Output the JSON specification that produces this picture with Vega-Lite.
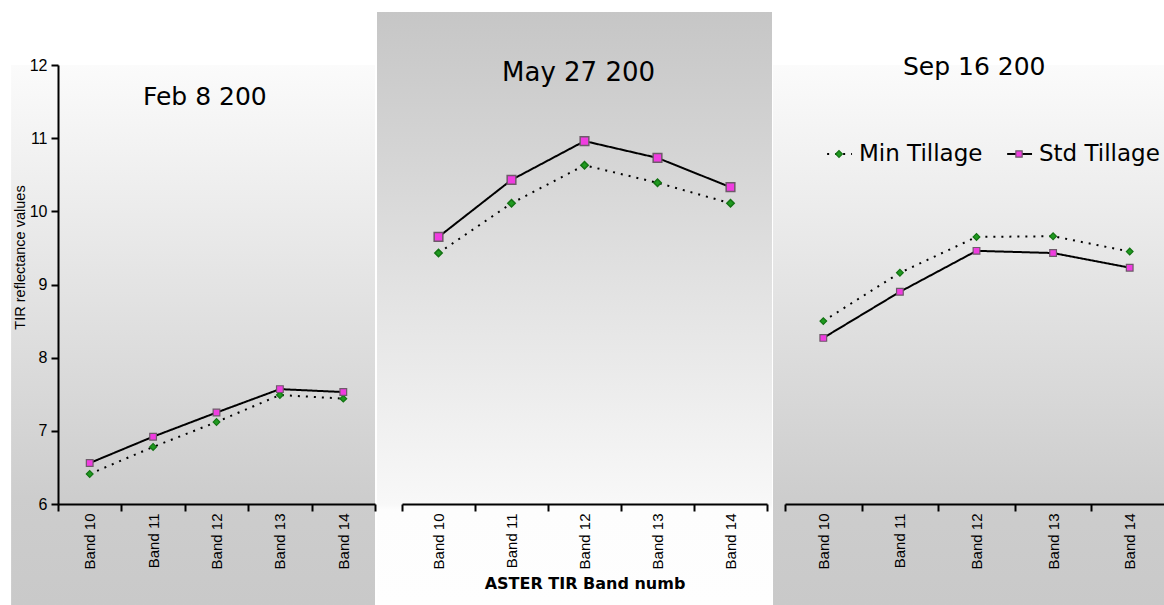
{
  "$schema": "https://vega.github.io/schema/vega-lite/v6.json",
  "padding": {"left": 11, "top": 12, "right": 0, "bottom": 0},
  "background": "white",
  "spacing": 0,
  "config": {
    "view": {"stroke": null},
    "axis": {"zindex": 1, "domainColor": "black", "domainWidth": 2, "tickColor": "black", "tickWidth": 2, "tickSize": 7, "grid": false, "labelColor": "black", "titleColor": "black", "labelFont": "Liberation Sans"},
    "text": {"font": "DejaVu Sans", "color": "black"}
  },
  "datasets": {
    "tir": [
      {"date": "Feb", "band": "Band 10", "series": "Min Tillage", "value": 6.41},
      {"date": "Feb", "band": "Band 11", "series": "Min Tillage", "value": 6.78},
      {"date": "Feb", "band": "Band 12", "series": "Min Tillage", "value": 7.12},
      {"date": "Feb", "band": "Band 13", "series": "Min Tillage", "value": 7.49},
      {"date": "Feb", "band": "Band 14", "series": "Min Tillage", "value": 7.44},
      {"date": "Feb", "band": "Band 10", "series": "Std Tillage", "value": 6.56},
      {"date": "Feb", "band": "Band 11", "series": "Std Tillage", "value": 6.92},
      {"date": "Feb", "band": "Band 12", "series": "Std Tillage", "value": 7.25},
      {"date": "Feb", "band": "Band 13", "series": "Std Tillage", "value": 7.57},
      {"date": "Feb", "band": "Band 14", "series": "Std Tillage", "value": 7.53},
      {"date": "May", "band": "Band 10", "series": "Min Tillage", "value": 9.43},
      {"date": "May", "band": "Band 11", "series": "Min Tillage", "value": 10.11},
      {"date": "May", "band": "Band 12", "series": "Min Tillage", "value": 10.63},
      {"date": "May", "band": "Band 13", "series": "Min Tillage", "value": 10.39},
      {"date": "May", "band": "Band 14", "series": "Min Tillage", "value": 10.11},
      {"date": "May", "band": "Band 10", "series": "Std Tillage", "value": 9.65},
      {"date": "May", "band": "Band 11", "series": "Std Tillage", "value": 10.43},
      {"date": "May", "band": "Band 12", "series": "Std Tillage", "value": 10.96},
      {"date": "May", "band": "Band 13", "series": "Std Tillage", "value": 10.73},
      {"date": "May", "band": "Band 14", "series": "Std Tillage", "value": 10.33},
      {"date": "Sep", "band": "Band 10", "series": "Min Tillage", "value": 8.50},
      {"date": "Sep", "band": "Band 11", "series": "Min Tillage", "value": 9.16},
      {"date": "Sep", "band": "Band 12", "series": "Min Tillage", "value": 9.65},
      {"date": "Sep", "band": "Band 13", "series": "Min Tillage", "value": 9.66},
      {"date": "Sep", "band": "Band 14", "series": "Min Tillage", "value": 9.45},
      {"date": "Sep", "band": "Band 10", "series": "Std Tillage", "value": 8.27},
      {"date": "Sep", "band": "Band 11", "series": "Std Tillage", "value": 8.90},
      {"date": "Sep", "band": "Band 12", "series": "Std Tillage", "value": 9.46},
      {"date": "Sep", "band": "Band 13", "series": "Std Tillage", "value": 9.43},
      {"date": "Sep", "band": "Band 14", "series": "Std Tillage", "value": 9.23}
    ]
  },
  "hconcat": [
    {
      "width": 317,
      "height": 439,
      "resolve": {"scale": {"x": "independent"}},
      "layer": [
        {
          "data": {"values": [{}]},
          "layer": [
            {
              "mark": {"type": "rect", "color": {"gradient": "linear", "x1": 0, "y1": 0, "x2": 0, "y2": 1, "stops": [{"offset": 0, "color": "#fbfbfb"}, {"offset": 0.8, "color": "#cdcdcd"}, {"offset": 1, "color": "#c9c9c9"}]}},
              "encoding": {
                "x": {"datum": -0.148, "type": "quantitative", "scale": {"domain": [0, 1], "nice": false, "zero": false}, "axis": null},
                "x2": {"datum": 1},
                "y": {"datum": 12, "type": "quantitative", "scale": {"domain": [6, 12], "nice": false, "zero": false}, "axis": {"zindex": 2, "values": [6, 7, 8, 9, 10, 11, 12], "title": "TIR reflectance values", "titleFont": "Liberation Sans", "titleFontSize": 14.5, "titleFontWeight": "normal", "titlePadding": 2, "titleY": 192, "labelFontSize": 16, "labelPadding": 4}},
                "y2": {"datum": 4.62}
              }
            },
            {
              "mark": {"type": "text", "align": "left", "baseline": "middle", "fontSize": 25},
              "encoding": {
                "x": {"datum": 0.268, "type": "quantitative", "scale": {"domain": [0, 1], "nice": false, "zero": false}, "axis": null},
                "y": {"datum": 11.56, "type": "quantitative", "scale": {"domain": [6, 12], "nice": false, "zero": false}, "axis": {"zindex": 2, "values": [6, 7, 8, 9, 10, 11, 12], "title": "TIR reflectance values", "titleFont": "Liberation Sans", "titleFontSize": 14.5, "titleFontWeight": "normal", "titlePadding": 2, "titleY": 192, "labelFontSize": 16, "labelPadding": 4}},
                "text": {"value": "Feb 8 200"}
              }
            }
          ]
        },
        {
          "data": {"name": "tir"},
          "transform": [{"filter": "datum.date === 'Feb'"}],
          "encoding": {
            "x": {"field": "band", "type": "nominal", "scale": {"paddingInner": 0, "paddingOuter": 0}, "axis": {"zindex": 2, "tickBand": "extent", "labelAngle": 270, "labelFontSize": 15, "labelPadding": 2, "title": null}},
            "y": {"field": "value", "type": "quantitative", "scale": {"domain": [6, 12], "nice": false, "zero": false}, "axis": {"zindex": 2, "values": [6, 7, 8, 9, 10, 11, 12], "title": "TIR reflectance values", "titleFont": "Liberation Sans", "titleFontSize": 14.5, "titleFontWeight": "normal", "titlePadding": 2, "titleY": 192, "labelFontSize": 16, "labelPadding": 4}}
          },
          "layer": [
            {
              "mark": {"type": "line", "color": "black", "strokeWidth": 2},
              "encoding": {
                "detail": {"field": "series"},
                "strokeDash": {"field": "series", "type": "nominal", "scale": {"domain": ["Min Tillage", "Std Tillage"], "range": [[2, 6], [1, 0]]}, "legend": null}
              }
            },
            {
              "mark": {"type": "point", "filled": true, "opacity": 1, "strokeWidth": 1.2},
              "encoding": {
                "shape": {"field": "series", "type": "nominal", "scale": {"domain": ["Min Tillage", "Std Tillage"], "range": ["diamond", "square"]}, "legend": null},
                "fill": {"field": "series", "type": "nominal", "scale": {"domain": ["Min Tillage", "Std Tillage"], "range": ["#1f9a1f", "#f03ce0"]}, "legend": null},
                "stroke": {"field": "series", "type": "nominal", "scale": {"domain": ["Min Tillage", "Std Tillage"], "range": ["#137313", "#6e5a6a"]}, "legend": null},
                "size": {"value": 45}
              }
            }
          ]
        }
      ]
    },
    {
      "width": 365,
      "height": 439,
      "resolve": {"scale": {"x": "independent"}},
      "layer": [
        {
          "data": {"values": [{}]},
          "layer": [
            {
              "mark": {"type": "rect", "color": {"gradient": "linear", "x1": 0, "y1": 0, "x2": 0, "y2": 1, "stops": [{"offset": 0, "color": "#c6c6c6"}, {"offset": 0.83, "color": "#f8f8f8"}, {"offset": 0.84, "color": "#fdfdfd"}, {"offset": 1, "color": "#fefefe"}]}},
              "encoding": {
                "x": {"datum": -0.0685, "type": "quantitative", "scale": {"domain": [0, 1], "nice": false, "zero": false}, "axis": null},
                "x2": {"datum": 1.0137},
                "y": {"datum": 12.724, "type": "quantitative", "scale": {"domain": [6, 12], "nice": false, "zero": false}, "axis": null},
                "y2": {"datum": 4.62}
              }
            },
            {
              "mark": {"type": "text", "align": "left", "baseline": "middle", "fontSize": 26},
              "encoding": {
                "x": {"datum": 0.274, "type": "quantitative", "scale": {"domain": [0, 1], "nice": false, "zero": false}, "axis": null},
                "y": {"datum": 11.89, "type": "quantitative", "scale": {"domain": [6, 12], "nice": false, "zero": false}, "axis": null},
                "text": {"value": "May 27 200"}
              }
            }
          ]
        },
        {
          "data": {"name": "tir"},
          "transform": [{"filter": "datum.date === 'May'"}],
          "encoding": {
            "x": {"field": "band", "type": "nominal", "scale": {"paddingInner": 0, "paddingOuter": 0}, "axis": {"zindex": 2, "tickBand": "extent", "labelAngle": 270, "labelFontSize": 15, "labelPadding": 2, "title": "ASTER TIR Band numb", "titleFont": "DejaVu Sans", "titleFontSize": 16, "titleFontWeight": "bold", "titlePadding": 7}},
            "y": {"field": "value", "type": "quantitative", "scale": {"domain": [6, 12], "nice": false, "zero": false}, "axis": null}
          },
          "layer": [
            {
              "mark": {"type": "line", "color": "black", "strokeWidth": 2},
              "encoding": {
                "detail": {"field": "series"},
                "strokeDash": {"field": "series", "type": "nominal", "scale": {"domain": ["Min Tillage", "Std Tillage"], "range": [[3, 7], [1, 0]]}, "legend": null}
              }
            },
            {
              "mark": {"type": "point", "filled": true, "opacity": 1, "strokeWidth": 1.5},
              "encoding": {
                "shape": {"field": "series", "type": "nominal", "scale": {"domain": ["Min Tillage", "Std Tillage"], "range": ["diamond", "square"]}, "legend": null},
                "fill": {"field": "series", "type": "nominal", "scale": {"domain": ["Min Tillage", "Std Tillage"], "range": ["#1f9a1f", "#ff33ee"]}, "legend": null},
                "stroke": {"field": "series", "type": "nominal", "scale": {"domain": ["Min Tillage", "Std Tillage"], "range": ["#137313", "#c85a28"]}, "legend": null},
                "size": {"field": "series", "type": "nominal", "scale": {"domain": ["Min Tillage", "Std Tillage"], "range": [55, 75]}, "legend": null}
              }
            }
          ]
        }
      ]
    },
    {
      "width": 383,
      "height": 439,
      "resolve": {"scale": {"x": "independent"}},
      "layer": [
        {
          "data": {"values": [{}]},
          "encoding": {
            "y": {"datum": 10.784, "type": "quantitative", "scale": {"domain": [6, 12], "nice": false, "zero": false}, "axis": null}
          },
          "layer": [
            {
              "mark": {"type": "rect", "color": {"gradient": "linear", "x1": 0, "y1": 0, "x2": 0, "y2": 1, "stops": [{"offset": 0, "color": "#fbfbfb"}, {"offset": 0.8, "color": "#cdcdcd"}, {"offset": 1, "color": "#c9c9c9"}]}},
              "encoding": {
                "x": {"datum": -0.0313, "type": "quantitative", "scale": {"domain": [0, 1], "nice": false, "zero": false}, "axis": null},
                "x2": {"datum": 1},
                "y": {"datum": 12, "type": "quantitative", "scale": {"domain": [6, 12], "nice": false, "zero": false}, "axis": null},
                "y2": {"datum": 4.62}
              }
            },
            {
              "mark": {"type": "text", "align": "left", "baseline": "middle", "fontSize": 25},
              "encoding": {
                "x": {"datum": 0.308, "type": "quantitative", "scale": {"domain": [0, 1], "nice": false, "zero": false}, "axis": null},
                "y": {"datum": 11.97, "type": "quantitative", "scale": {"domain": [6, 12], "nice": false, "zero": false}, "axis": null},
                "text": {"value": "Sep 16 200"}
              }
            },
            {
              "mark": {"type": "rule", "color": "black", "strokeWidth": 2, "strokeDash": [2, 6]},
              "encoding": {
                "x": {"datum": 0.110, "type": "quantitative", "scale": {"domain": [0, 1], "nice": false, "zero": false}, "axis": null},
                "x2": {"datum": 0.175}
              }
            },
            {
              "mark": {"type": "point", "shape": "diamond", "filled": true, "opacity": 1, "fill": "#1f9a1f", "stroke": "#137313", "strokeWidth": 1.2, "size": 45},
              "encoding": {
                "x": {"datum": 0.141, "type": "quantitative", "scale": {"domain": [0, 1], "nice": false, "zero": false}, "axis": null}
              }
            },
            {
              "mark": {"type": "text", "align": "left", "baseline": "middle", "fontSize": 23},
              "encoding": {
                "x": {"datum": 0.193, "type": "quantitative", "scale": {"domain": [0, 1], "nice": false, "zero": false}, "axis": null},
                "text": {"value": "Min Tillage"}
              }
            },
            {
              "mark": {"type": "rule", "color": "black", "strokeWidth": 2},
              "encoding": {
                "x": {"datum": 0.580, "type": "quantitative", "scale": {"domain": [0, 1], "nice": false, "zero": false}, "axis": null},
                "x2": {"datum": 0.645}
              }
            },
            {
              "mark": {"type": "point", "shape": "square", "filled": true, "opacity": 1, "fill": "#f03ce0", "stroke": "#6e5a6a", "strokeWidth": 1.2, "size": 40},
              "encoding": {
                "x": {"datum": 0.611, "type": "quantitative", "scale": {"domain": [0, 1], "nice": false, "zero": false}, "axis": null}
              }
            },
            {
              "mark": {"type": "text", "align": "left", "baseline": "middle", "fontSize": 23},
              "encoding": {
                "x": {"datum": 0.663, "type": "quantitative", "scale": {"domain": [0, 1], "nice": false, "zero": false}, "axis": null},
                "text": {"value": "Std Tillage"}
              }
            }
          ]
        },
        {
          "data": {"name": "tir"},
          "transform": [{"filter": "datum.date === 'Sep'"}],
          "encoding": {
            "x": {"field": "band", "type": "nominal", "scale": {"paddingInner": 0, "paddingOuter": 0}, "axis": {"zindex": 2, "tickBand": "extent", "labelAngle": 270, "labelFontSize": 15, "labelPadding": 2, "title": null}},
            "y": {"field": "value", "type": "quantitative", "scale": {"domain": [6, 12], "nice": false, "zero": false}, "axis": null}
          },
          "layer": [
            {
              "mark": {"type": "line", "color": "black", "strokeWidth": 2},
              "encoding": {
                "detail": {"field": "series"},
                "strokeDash": {"field": "series", "type": "nominal", "scale": {"domain": ["Min Tillage", "Std Tillage"], "range": [[2, 6], [1, 0]]}, "legend": null}
              }
            },
            {
              "mark": {"type": "point", "filled": true, "opacity": 1, "strokeWidth": 1.2},
              "encoding": {
                "shape": {"field": "series", "type": "nominal", "scale": {"domain": ["Min Tillage", "Std Tillage"], "range": ["diamond", "square"]}, "legend": null},
                "fill": {"field": "series", "type": "nominal", "scale": {"domain": ["Min Tillage", "Std Tillage"], "range": ["#1f9a1f", "#f03ce0"]}, "legend": null},
                "stroke": {"field": "series", "type": "nominal", "scale": {"domain": ["Min Tillage", "Std Tillage"], "range": ["#137313", "#6e5a6a"]}, "legend": null},
                "size": {"value": 45}
              }
            }
          ]
        }
      ]
    }
  ]
}
